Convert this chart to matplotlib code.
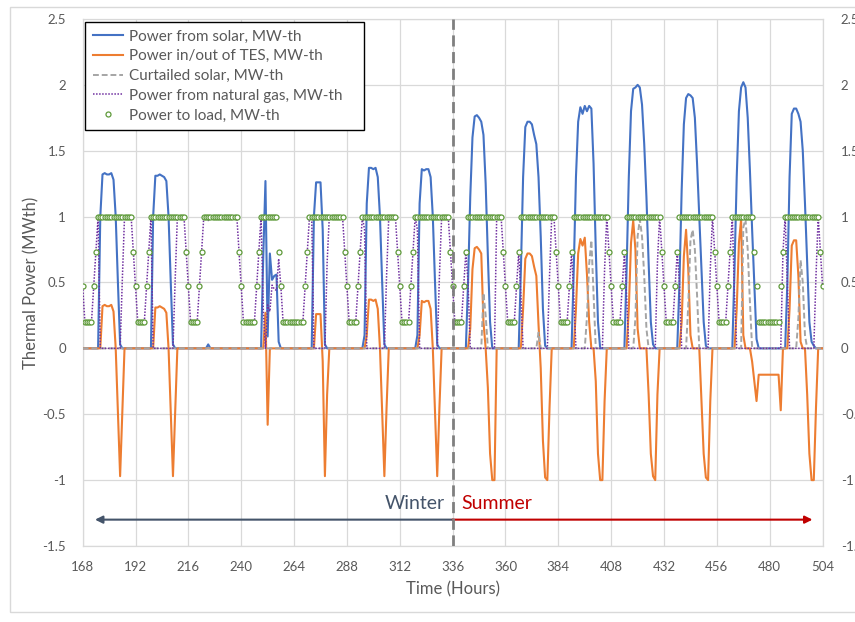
import numpy as np
import matplotlib
matplotlib.use("Agg")
import matplotlib.pyplot as plt
from matplotlib.patches import Rectangle

plt.rcParams["font.family"] = ["Lato", "DejaVu Sans"]

# ---------------------------------------------------------------------------
# Hourly data, hours 168..504 (one row = one day, 24 values)
# ---------------------------------------------------------------------------
hours = np.arange(168, 505)

solar_mw = [
    0, 0, 0, 0, 0, 0, 0, 0, 1.0, 1.32, 1.33, 1.32, 1.32, 1.33, 1.28, 1.0, 0.5, 0.03, 0, 0, 0, 0, 0, 0,
    0, 0, 0, 0, 0, 0, 0, 0, 1.0, 1.31, 1.31, 1.32, 1.31, 1.30, 1.27, 1.0, 0.5, 0.03, 0, 0, 0, 0, 0, 0,
    0, 0, 0, 0, 0, 0, 0, 0, 0, 0.03, 0, 0, 0, 0, 0, 0, 0, 0, 0, 0, 0, 0, 0, 0,
    0, 0, 0, 0, 0, 0, 0, 0, 0, 0, 0.7, 1.27, 0.09, 0.72, 0.52, 0.55, 0.56, 0.05, 0, 0, 0, 0, 0, 0,
    0, 0, 0, 0, 0, 0, 0, 0, 0, 1.0, 1.26, 1.26, 1.26, 0.9, 0.03, 0, 0, 0, 0, 0, 0, 0, 0, 0,
    0, 0, 0, 0, 0, 0, 0, 0, 0.1, 1.1, 1.37, 1.37, 1.36, 1.37, 1.3, 1.0, 0.5, 0.03, 0, 0, 0, 0, 0, 0,
    0, 0, 0, 0, 0, 0, 0, 0, 0.1, 1.1, 1.36, 1.35, 1.36, 1.36, 1.3, 1.0, 0.5, 0.03, 0, 0, 0, 0, 0, 0,
    0, 0, 0, 0, 0, 0, 0, 0.5, 1.15, 1.6, 1.76, 1.77, 1.75, 1.72, 1.62, 1.25, 0.7, 0.2, 0, 0, 0, 0, 0, 0,
    0, 0, 0, 0, 0, 0, 0, 0.6, 1.3, 1.68, 1.72, 1.72, 1.70, 1.62, 1.55, 1.3, 0.85, 0.3, 0.02, 0, 0, 0, 0, 0,
    0, 0, 0, 0, 0, 0, 0, 0.6, 1.3, 1.72, 1.83, 1.78, 1.84, 1.8, 1.84, 1.82, 1.4, 0.75, 0.2, 0, 0, 0, 0, 0,
    0, 0, 0, 0, 0, 0, 0, 0.6, 1.3, 1.8, 1.97, 1.98, 2.0, 1.98, 1.85, 1.55, 1.15, 0.65, 0.2, 0.03, 0, 0, 0, 0,
    0, 0, 0, 0, 0, 0, 0, 0.5, 1.2, 1.7, 1.9, 1.93, 1.92, 1.9, 1.75, 1.4, 1.0, 0.6, 0.2, 0.02, 0, 0, 0, 0,
    0, 0, 0, 0, 0, 0, 0, 0, 0.6, 1.3, 1.8, 1.98, 2.02, 1.98, 1.75, 1.35, 0.9, 0.48, 0.07, 0, 0, 0, 0, 0,
    0, 0, 0, 0, 0, 0, 0, 0, 0.5, 1.3, 1.78, 1.82, 1.82, 1.78, 1.72, 1.5, 1.1, 0.65, 0.2, 0.05, 0.02, 0, 0, 0,
    0,
]

tes_mw = [
    0, 0, 0, 0, 0, 0, 0, 0, 0, 0.32, 0.33, 0.32, 0.32, 0.33, 0.28, 0, -0.49, -0.97, -0.48, 0, 0, 0, 0, 0,
    0, 0, 0, 0, 0, 0, 0, 0, 0, 0.31, 0.31, 0.32, 0.31, 0.30, 0.27, 0, -0.49, -0.97, -0.48, 0, 0, 0, 0, 0,
    0, 0, 0, 0, 0, 0, 0, 0, 0, 0, 0, 0, 0, 0, 0, 0, 0, 0, 0, 0, 0, 0, 0, 0,
    0, 0, 0, 0, 0, 0, 0, 0, 0, 0, 0, 0.27, -0.58, 0, 0, 0, 0, 0, 0, 0, 0, 0, 0, 0,
    0, 0, 0, 0, 0, 0, 0, 0, 0, 0, 0.26, 0.26, 0.26, -0.1, -0.97, -0.35, 0, 0, 0, 0, 0, 0, 0, 0,
    0, 0, 0, 0, 0, 0, 0, 0, 0, 0.1, 0.37, 0.37, 0.36, 0.37, 0.3, 0, -0.49, -0.97, -0.45, 0, 0, 0, 0, 0,
    0, 0, 0, 0, 0, 0, 0, 0, 0, 0.1, 0.36, 0.35, 0.36, 0.36, 0.3, 0, -0.49, -0.97, -0.45, 0, 0, 0, 0, 0,
    0, 0, 0, 0, 0, 0, 0, 0, 0.15, 0.6, 0.76, 0.77, 0.75, 0.72, 0.2, 0, -0.3, -0.8, -1.0, -1.0, 0, 0, 0, 0,
    0, 0, 0, 0, 0, 0, 0, 0, 0.3, 0.68, 0.72, 0.72, 0.70, 0.62, 0.55, 0.18, -0.15, -0.7, -0.98, -1.0, -0.45, 0, 0, 0,
    0, 0, 0, 0, 0, 0, 0, 0, 0.3, 0.72, 0.83, 0.78, 0.84, 0.56, 0.2, 0, 0, -0.25, -0.8, -1.0, -1.0, -0.4, 0, 0,
    0, 0, 0, 0, 0, 0, 0, 0, 0.3, 0.8, 0.97, 0.75, 0.15, 0, 0, 0, 0, -0.35, -0.8, -0.97, -1.0, -0.35, 0, 0,
    0, 0, 0, 0, 0, 0, 0, 0, 0.2, 0.7, 0.9, 0.6, 0.1, 0, 0, 0, 0, -0.4, -0.8, -0.98, -1.0, -0.4, 0, 0,
    0, 0, 0, 0, 0, 0, 0, 0, 0, 0.3, 0.8, 0.98, 0.1, 0, 0, 0, -0.1, -0.25, -0.4, -0.2, -0.2, -0.2, -0.2, -0.2,
    -0.2, -0.2, -0.2, -0.2, -0.2, -0.47, 0, 0, 0, 0.3, 0.78, 0.82, 0.82, 0.55, 0.05, 0, 0, -0.35, -0.8, -1.0, -1.0, -0.45, 0, 0,
    0,
]

curtailed_mw = [
    0, 0, 0, 0, 0, 0, 0, 0, 0, 0, 0, 0, 0, 0, 0, 0, 0, 0, 0, 0, 0, 0, 0, 0,
    0, 0, 0, 0, 0, 0, 0, 0, 0, 0, 0, 0, 0, 0, 0, 0, 0, 0, 0, 0, 0, 0, 0, 0,
    0, 0, 0, 0, 0, 0, 0, 0, 0, 0, 0, 0, 0, 0, 0, 0, 0, 0, 0, 0, 0, 0, 0, 0,
    0, 0, 0, 0, 0, 0, 0, 0, 0, 0, 0, 0, 0, 0, 0, 0, 0, 0, 0, 0, 0, 0, 0, 0,
    0, 0, 0, 0, 0, 0, 0, 0, 0, 0, 0, 0, 0, 0, 0, 0, 0, 0, 0, 0, 0, 0, 0, 0,
    0, 0, 0, 0, 0, 0, 0, 0, 0, 0, 0, 0, 0, 0, 0, 0, 0, 0, 0, 0, 0, 0, 0, 0,
    0, 0, 0, 0, 0, 0, 0, 0, 0, 0, 0, 0, 0, 0, 0, 0, 0, 0, 0, 0, 0, 0, 0, 0,
    0, 0, 0, 0, 0, 0, 0, 0, 0, 0, 0, 0, 0, 0, 0.42, 0.25, 0, 0, 0, 0, 0, 0, 0, 0,
    0, 0, 0, 0, 0, 0, 0, 0, 0, 0, 0, 0, 0, 0, 0, 0.12, 0, 0, 0, 0, 0, 0, 0, 0,
    0, 0, 0, 0, 0, 0, 0, 0, 0, 0, 0, 0, 0, 0.24, 0.64, 0.82, 0.4, 0, 0, 0, 0, 0, 0, 0,
    0, 0, 0, 0, 0, 0, 0, 0, 0, 0, 0, 0.23, 0.85, 0.98, 0.85, 0.55, 0.15, 0, 0, 0, 0, 0, 0, 0,
    0, 0, 0, 0, 0, 0, 0, 0, 0, 0, 0, 0.33, 0.82, 0.9, 0.75, 0.4, 0, 0, 0, 0, 0, 0, 0, 0,
    0, 0, 0, 0, 0, 0, 0, 0, 0, 0, 0, 0, 0.92, 0.98, 0.75, 0.35, 0, 0, 0, 0, 0, 0, 0, 0,
    0, 0, 0, 0, 0, 0, 0, 0, 0, 0, 0, 0, 0, 0.23, 0.67, 0.5, 0.1, 0, 0, 0, 0, 0, 0, 0,
    0,
]

gas_mw = [
    0.47, 0.2, 0.2, 0.2, 0.2, 0.47, 0.73, 1, 0, 0, 0, 0, 0, 0, 0, 0, 0, 0, 0.52, 1, 1, 1, 1, 0.73,
    0.47, 0.2, 0.2, 0.2, 0.2, 0.47, 0.73, 1, 0, 0, 0, 0, 0, 0, 0, 0, 0, 0, 0.52, 1, 1, 1, 1, 0.73,
    0.47, 0.2, 0.2, 0.2, 0.2, 0.47, 0.73, 1, 1, 0.97, 1, 1, 1, 1, 1, 1, 1, 1, 1, 1, 1, 1, 1, 0.73,
    0.47, 0.2, 0.2, 0.2, 0.2, 0.2, 0.2, 0.47, 0.73, 1, 0.3, 0, 0.33, 0.28, 0.48, 0.45, 0.44, 0.68, 0.47, 0.2, 0.2, 0.2, 0.2, 0.2,
    0.2, 0.2, 0.2, 0.2, 0.2, 0.47, 0.73, 1, 1, 0, 0, 0, 0, 0, 0, 0.65, 1, 1, 1, 1, 1, 1, 1, 0.73,
    0.47, 0.2, 0.2, 0.2, 0.2, 0.47, 0.73, 1, 0.9, 0, 0, 0, 0, 0, 0, 0, 0, 0, 0.55, 1, 1, 1, 1, 0.73,
    0.47, 0.2, 0.2, 0.2, 0.2, 0.47, 0.73, 1, 0.9, 0, 0, 0, 0, 0, 0, 0, 0, 0, 0.55, 1, 1, 1, 1, 0.73,
    0.47, 0.2, 0.2, 0.2, 0.2, 0.47, 0.73, 0.5, 0, 0, 0, 0, 0, 0, 0, 0, 0, 0, 0, 0, 1, 1, 1, 0.73,
    0.47, 0.2, 0.2, 0.2, 0.2, 0.47, 0.73, 0.4, 0, 0, 0, 0, 0, 0, 0, 0, 0, 0, 0, 0, 0.55, 1, 1, 0.73,
    0.47, 0.2, 0.2, 0.2, 0.2, 0.47, 0.73, 0.4, 0, 0, 0, 0, 0, 0, 0, 0, 0, 0, 0, 0, 0, 0.6, 1, 0.73,
    0.47, 0.2, 0.2, 0.2, 0.2, 0.47, 0.73, 0.4, 0, 0, 0, 0, 0, 0, 0, 0, 0, 0, 0, 0, 0, 0.65, 1, 0.73,
    0.47, 0.2, 0.2, 0.2, 0.2, 0.47, 0.73, 0.5, 0, 0, 0, 0, 0, 0, 0, 0, 0, 0, 0, 0, 0, 0.6, 1, 0.73,
    0.47, 0.2, 0.2, 0.2, 0.2, 0.47, 0.73, 1, 0.4, 0, 0, 0, 0, 0, 0, 0, 0, 0, 0, 0, 0, 0, 0, 0,
    0, 0, 0, 0, 0, 0, 0.73, 1, 0.5, 0, 0, 0, 0, 0, 0, 0, 0, 0, 0, 0, 0, 0.55, 1, 0.73,
    0.47,
]

load_mw = [
    0.47, 0.2, 0.2, 0.2, 0.2, 0.47, 0.73, 1, 1, 1, 1, 1, 1, 1, 1, 1, 1, 1, 1, 1, 1, 1, 1, 0.73,
    0.47, 0.2, 0.2, 0.2, 0.2, 0.47, 0.73, 1, 1, 1, 1, 1, 1, 1, 1, 1, 1, 1, 1, 1, 1, 1, 1, 0.73,
    0.47, 0.2, 0.2, 0.2, 0.2, 0.47, 0.73, 1, 1, 1, 1, 1, 1, 1, 1, 1, 1, 1, 1, 1, 1, 1, 1, 0.73,
    0.47, 0.2, 0.2, 0.2, 0.2, 0.2, 0.2, 0.47, 0.73, 1, 1, 1, 1, 1, 1, 1, 1, 0.73, 0.47, 0.2, 0.2, 0.2, 0.2, 0.2,
    0.2, 0.2, 0.2, 0.2, 0.2, 0.47, 0.73, 1, 1, 1, 1, 1, 1, 1, 1, 1, 1, 1, 1, 1, 1, 1, 1, 0.73,
    0.47, 0.2, 0.2, 0.2, 0.2, 0.47, 0.73, 1, 1, 1, 1, 1, 1, 1, 1, 1, 1, 1, 1, 1, 1, 1, 1, 0.73,
    0.47, 0.2, 0.2, 0.2, 0.2, 0.47, 0.73, 1, 1, 1, 1, 1, 1, 1, 1, 1, 1, 1, 1, 1, 1, 1, 1, 0.73,
    0.47, 0.2, 0.2, 0.2, 0.2, 0.47, 0.73, 1, 1, 1, 1, 1, 1, 1, 1, 1, 1, 1, 1, 1, 1, 1, 1, 0.73,
    0.47, 0.2, 0.2, 0.2, 0.2, 0.47, 0.73, 1, 1, 1, 1, 1, 1, 1, 1, 1, 1, 1, 1, 1, 1, 1, 1, 0.73,
    0.47, 0.2, 0.2, 0.2, 0.2, 0.47, 0.73, 1, 1, 1, 1, 1, 1, 1, 1, 1, 1, 1, 1, 1, 1, 1, 1, 0.73,
    0.47, 0.2, 0.2, 0.2, 0.2, 0.47, 0.73, 1, 1, 1, 1, 1, 1, 1, 1, 1, 1, 1, 1, 1, 1, 1, 1, 0.73,
    0.47, 0.2, 0.2, 0.2, 0.2, 0.47, 0.73, 1, 1, 1, 1, 1, 1, 1, 1, 1, 1, 1, 1, 1, 1, 1, 1, 0.73,
    0.47, 0.2, 0.2, 0.2, 0.2, 0.47, 0.73, 1, 1, 1, 1, 1, 1, 1, 1, 1, 1, 0.73, 0.47, 0.2, 0.2, 0.2, 0.2, 0.2,
    0.2, 0.2, 0.2, 0.2, 0.2, 0.47, 0.73, 1, 1, 1, 1, 1, 1, 1, 1, 1, 1, 1, 1, 1, 1, 1, 1, 0.73,
    0.47,
]

x_ticks = list(range(168, 505, 24))
y_ticks = [-1.5, -1, -0.5, 0, 0.5, 1, 1.5, 2, 2.5]
y_labels = ["-1.5", "-1", "-0.5", "0", "0.5", "1", "1.5", "2", "2.5"]

GRID = "#D9D9D9"
TXT = "#595959"

fig = plt.figure(figsize=(8.55, 6.22), dpi=100)
fig.patches.append(Rectangle((10 / 855, 1 - 612 / 622), 0.99, 605 / 622,
                             transform=fig.transFigure, fill=False,
                             edgecolor=GRID, lw=1))
ax = fig.add_axes([0.0967, 0.1222, 0.8654, 0.8473])

ax.plot(hours, solar_mw, color="#4472C4", lw=1.5, label="Power from solar, MW-th", zorder=3)
ax.plot(hours, tes_mw, color="#ED7D31", lw=1.5, label="Power in/out of TES, MW-th", zorder=4)
ax.plot(hours, curtailed_mw, color="#A5A5A5", lw=1.4, ls=(0, (3, 1.5)),
        label="Curtailed solar, MW-th", zorder=5)
ax.plot(hours, gas_mw, color="#7030A0", lw=1.1, ls=(0, (1, 1)),
        label="Power from natural gas, MW-th", zorder=6)
ax.plot(hours, load_mw, ls="none", marker="o", ms=3.6, mfc="white", mec="#5E9A3A",
        mew=0.9, label="Power to load, MW-th", zorder=7)

ax.set_xlim(168, 504)
ax.set_ylim(-1.5, 2.5)
ax.set_xticks(x_ticks)
ax.set_yticks(y_ticks)
ax.set_yticklabels(y_labels)
ax.grid(True, color=GRID, lw=0.9, zorder=0)
ax.set_axisbelow(True)
for s in ax.spines.values():
    s.set_color(GRID)
    s.set_linewidth(0.9)
ax.tick_params(length=0, labelsize=9.5, labelcolor=TXT)
ax.tick_params(axis="x", pad=11)
ax.tick_params(axis="y", pad=12)

# right-hand copy of the value axis (cut off by the figure edge, as in the original)
ax2 = ax.twinx()
ax2.set_ylim(-1.5, 2.5)
ax2.set_yticks(y_ticks)
ax2.set_yticklabels(y_labels)
ax2.tick_params(length=0, labelsize=9.5, labelcolor=TXT, pad=13)
for s in ax2.spines.values():
    s.set_visible(False)

ax.set_xlabel("Time (Hours)", fontsize=12, color=TXT, labelpad=6)
ax.set_ylabel("Thermal Power (MWth)", fontsize=12, color=TXT, labelpad=2)

# season divider and arrows
ax.axvline(336, color="#7F7F7F", lw=2, ls=(0, (4, 2)), zorder=8)
ax.annotate("", xy=(173.6, -1.3), xytext=(336, -1.3),
            arrowprops=dict(arrowstyle="-|>", color="#44546A", lw=1.5,
                            mutation_scale=11, shrinkA=0, shrinkB=0))
ax.annotate("", xy=(499.4, -1.3), xytext=(336, -1.3),
            arrowprops=dict(arrowstyle="-|>", color="#C00000", lw=1.5,
                            mutation_scale=11, shrinkA=0, shrinkB=0))
ax.text(332.5, -1.18, "Winter", color="#44546A", fontsize=14, ha="right", va="center")
ax.text(340, -1.18, "Summer", color="#C00000", fontsize=14, ha="left", va="center")

leg = ax.legend(loc="upper left", bbox_to_anchor=(85 / 855, 1 - 28 / 622, 279 / 855, 0.01),
                bbox_transform=fig.transFigure, mode="expand", borderaxespad=0,
                fontsize=11, handlelength=2.0, handletextpad=0.35, labelspacing=0.38,
                borderpad=0.5, fancybox=False, framealpha=1, edgecolor="#000000")
leg.get_frame().set_linewidth(1.0)
for t in leg.get_texts():
    t.set_color(TXT)

fig.savefig("out.png", dpi=100)
